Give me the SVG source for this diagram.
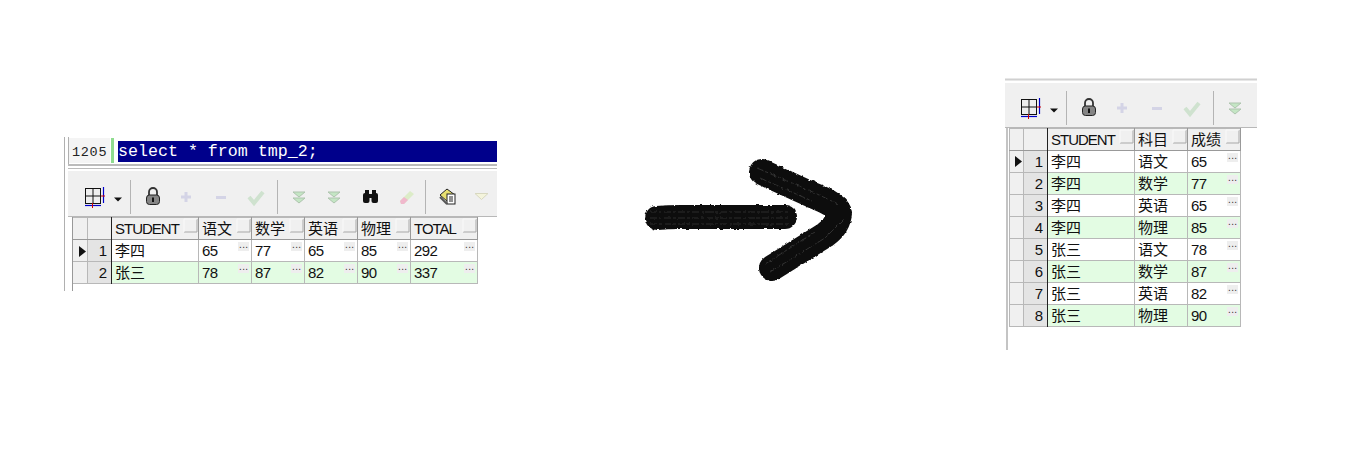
<svg xmlns="http://www.w3.org/2000/svg" width="1349" height="455" viewBox="0 0 1349 455">
<style>
text{font-family:"Liberation Sans","Noto Sans CJK SC",sans-serif;font-size:15px;letter-spacing:-.65px;fill:#111}
.c{font-family:"Noto Sans CJK SC","Liberation Sans",sans-serif;font-size:15px;letter-spacing:0}
.h{letter-spacing:-1px}
.n{text-anchor:end;letter-spacing:0}
.code{font-family:"Liberation Mono",monospace;font-size:16.65px;letter-spacing:0;fill:#fff}
.ln{font-family:"Liberation Mono",monospace;font-size:13.5px;letter-spacing:.7px;fill:#222}
.g{stroke:#b8b8b8;stroke-width:1;fill:none}
.dk{stroke:#222;stroke-width:1;fill:none}
.hd{stroke:#999;stroke-width:1;fill:none}
.sep{stroke:#b4b4b4;stroke-width:1;fill:none}
.dim{stroke:#d4d4e6;stroke-width:3;fill:none}
.chk{stroke:#cfe2cf;stroke-width:4;fill:none}
.chv{fill:#c4e6c4;stroke:#aec4ae;stroke-width:1}
.dots{font-size:10px;letter-spacing:.4px;fill:#333}
.streak{stroke:#333;stroke-width:1;fill:none;stroke-dasharray:7 2 3 2}
</style>
<defs>
<filter id="rough" filterUnits="userSpaceOnUse" x="630" y="145" width="240" height="150">
<feTurbulence type="fractalNoise" baseFrequency="0.25" numOctaves="2" seed="4" result="n"/>
<feDisplacementMap in="SourceGraphic" in2="n" scale="3" xChannelSelector="R" yChannelSelector="G"/>
</filter>
<g id="dot"><rect x="-11" y="2" width="11" height="9" fill="#eeeeee"/><text class="dots" x="-10" y="8">...</text></g>
<g id="grip"><path d="M-14 14H-1V1" stroke="#a8a8a8" fill="none"/><path d="M-14 14V1H-1" stroke="#fafafa" fill="none"/></g>
<g id="chev"><path class="chv" d="M-6 0H6L0 5Z"/><path class="chv" d="M-6 6H6L0 11Z"/></g>
<g id="tbar">
<g id="grid-ic"><rect x="85.500" y="188.500" width="15" height="15" fill="#eeeeee" stroke="#111"/><path d="M93 188v16M85 196h16" stroke="#111"/><path d="M103.500 187v16" stroke="#00c" stroke-width="1.200"/><path d="M85 205.500h16" stroke="#00c" stroke-width="1.200"/><path d="M101 196h4M92.500 203v5" stroke="#c00"/></g>
<path d="M114 197.500h8l-4 4Z" fill="#111"/>
<path class="sep" d="M130.500 180v34"/>
<g id="lock"><path d="M149 195v-3a4 4 0 0 1 8 0V195" stroke="#333" stroke-width="1.800" fill="none"/><rect x="146.500" y="195" width="13" height="9.500" rx="3" fill="#858585" stroke="#222"/><rect x="152" y="197.500" width="2" height="4.500" fill="#111"/></g>
<path class="dim" d="M186 192v10M181 197h10M216 197.500h10"/>
<path class="chk" d="M249 197l5 6 9-11"/>
</g>
</defs>

<rect width="1349" height="455" fill="#fff"/>

<g id="left-panel">
<path d="M64.500 137V291" stroke="#b0b0b0"/>
<path d="M68.500 137V164" stroke="#b0b0b0"/>
<rect x="69" y="138" width="41" height="25" fill="#f4f4f4"/>
<text class="ln" x="72" y="156">1205</text>
<rect x="111" y="138" width="3" height="25" fill="#8fdc8f"/>
<rect x="118" y="141" width="379" height="21" fill="#00008b"/>
<text class="code" x="118" y="156">select * from tmp_2;</text>
<rect x="68" y="164" width="429" height="2" fill="#bbbbbb"/>
<rect x="68" y="168" width="429" height="1" fill="#bbbbbb"/>
<rect x="68" y="171" width="429" height="45" fill="#f0f0f0"/>
<path d="M68 216.500H497" stroke="#b8b8b8"/>
<use href="#tbar"/>
<path class="sep" d="M277.500 180v34M425.500 180v34"/>
<use href="#chev" x="299" y="192"/>
<use href="#chev" x="334" y="192"/>
<g id="binoculars"><rect x="363" y="193" width="6.500" height="10" rx="2" fill="#111"/><rect x="371.500" y="193" width="6.500" height="10" rx="2" fill="#111"/><rect x="365" y="190" width="4" height="4" fill="#111"/><rect x="372" y="190" width="4" height="4" fill="#111"/><rect x="368" y="194" width="5" height="4" fill="#111"/></g>
<g id="eraser"><path d="M401 204l-1-3 10-10 4 3-10 10Z" fill="#dcecc8"/><path d="M401 204l-1-3 4-4 4 3-4 4Z" fill="#f0b8cc"/></g>
<g id="doc-ic"><path d="M440 195l7-6 8 6-7 7Z" fill="#e8e070" stroke="#222"/><rect x="447" y="194" width="8" height="10" fill="#fff" stroke="#222"/><path d="M449 197h4M449 199h4M449 201h4" stroke="#222"/><path d="M440 197l7 7" stroke="#555" stroke-width="2"/></g>
<path d="M475 193.500h13l-6.500 6Z" fill="#f4f4dc" stroke="#d8d8c0"/>
</g>

<g id="left-table">
<rect x="73" y="217" width="405" height="22" fill="#f0f0f0"/>
<rect x="73" y="240" width="15" height="44" fill="#f0f0f0"/>
<rect x="88" y="240" width="24" height="44" fill="#e4e4e4"/>
<rect x="112" y="240" width="366" height="22" fill="#fff"/>
<rect x="112" y="262" width="366" height="22" fill="#e3fce3"/>
<path class="hd" d="M72.500 217V291"/>
<path class="g" d="M73 217.500H478M87.500 217V284M73 261.500H478M73 283.500H478M198.500 240V284M251.500 240V284M304.500 240V284M357.500 240V284M410.500 240V284M477.500 240V284"/>
<path class="hd" d="M73 239.500H478M198.500 217V240M251.500 217V240M304.500 217V240M357.500 217V240M410.500 217V240M477.500 217V240"/>
<path class="dk" d="M111.500 217V284"/>
<use href="#grip" x="198" y="218"/><use href="#grip" x="251" y="218"/><use href="#grip" x="304" y="218"/><use href="#grip" x="357" y="218"/><use href="#grip" x="410" y="218"/><use href="#grip" x="477" y="218"/>
<text class="h" x="115" y="234">STUDENT</text><text class="c" x="202" y="234">语文</text><text class="c" x="255" y="234">数学</text><text class="c" x="308" y="234">英语</text><text class="c" x="361" y="234">物理</text><text class="h" x="414" y="234">TOTAL</text>
<path d="M79 246l7 5.500-7 5.500Z" fill="#111"/>
<text class="n" x="107" y="256">1</text><text class="n" x="107" y="278">2</text>
<text class="c" x="115" y="256">李四</text><text class="c" x="115" y="278">张三</text>
<text x="202" y="256">65</text><text x="255" y="256">77</text><text x="308" y="256">65</text><text x="361" y="256">85</text><text x="414" y="256">292</text>
<text x="202" y="278">78</text><text x="255" y="278">87</text><text x="308" y="278">82</text><text x="361" y="278">90</text><text x="414" y="278">337</text>
<use href="#dot" x="249" y="240"/><use href="#dot" x="302" y="240"/><use href="#dot" x="355" y="240"/><use href="#dot" x="408" y="240"/><use href="#dot" x="475" y="240"/>
<use href="#dot" x="249" y="262"/><use href="#dot" x="302" y="262"/><use href="#dot" x="355" y="262"/><use href="#dot" x="408" y="262"/><use href="#dot" x="475" y="262"/>
</g>

<g id="big-arrow" filter="url(#rough)">
<path d="M657 218Q668 217 680 217L785 217" stroke="#0b0b0b" stroke-width="24" fill="none" stroke-linecap="round"/>
<path d="M762 172L812 195Q838 205 839 213Q838 226 825 235L772 268" stroke="#0e0e0e" stroke-width="26" fill="none" stroke-linecap="round" stroke-linejoin="round"/>
<path class="streak" d="M650 212H790M650 218H790M650 224H790M757 168L815 193L838 204M760 178L812 201M770 272L825 238L845 218M765 264L815 232"/>
</g>

<g id="right-panel">
<path d="M1005 79.500H1257" stroke="#d0d0d0" stroke-width="2"/>
<rect x="1005" y="83" width="252" height="44" fill="#f0f0f0"/>
<path d="M1005 127.500H1257" stroke="#b8b8b8"/>
<path d="M1007 128V350" stroke="#c4c4c4" stroke-width="2"/>
<use href="#tbar" x="936" y="-89"/>
<path class="sep" d="M1213.500 91v34"/>
<use href="#chev" x="1235" y="103"/>
</g>

<g id="right-table">
<rect x="1009" y="128" width="232" height="22" fill="#f0f0f0"/>
<rect x="1009" y="151" width="15" height="176" fill="#f0f0f0"/>
<rect x="1024" y="151" width="23" height="176" fill="#e4e4e4"/>
<rect x="1047" y="151" width="194" height="176" fill="#fff"/>
<rect x="1047" y="173" width="194" height="22" fill="#e3fce3"/>
<rect x="1047" y="217" width="194" height="22" fill="#e3fce3"/>
<rect x="1047" y="261" width="194" height="22" fill="#e3fce3"/>
<rect x="1047" y="305" width="194" height="22" fill="#e3fce3"/>
<path class="g" d="M1009 128.500H1241M1023.500 128V327M1009.500 128V327M1009 172.500H1241M1009 194.500H1241M1009 216.500H1241M1009 238.500H1241M1009 260.500H1241M1009 282.500H1241M1009 304.500H1241M1009 326.500H1241M1134.500 151V327M1187.500 151V327M1240.500 151V327"/>
<path class="hd" d="M1009 150.500H1241M1134.500 128V151M1187.500 128V151M1240.500 128V151"/>
<path class="dk" d="M1047.500 128V327"/>
<use href="#grip" x="1134" y="129"/><use href="#grip" x="1187" y="129"/><use href="#grip" x="1240" y="129"/>
<text class="h" x="1051" y="145">STUDENT</text><text class="c" x="1138" y="145">科目</text><text class="c" x="1191" y="145">成绩</text>
<path d="M1015 156l7 5.500-7 5.500Z" fill="#111"/>
<text class="n" x="1043" y="167">1</text><text class="n" x="1043" y="189">2</text><text class="n" x="1043" y="211">3</text><text class="n" x="1043" y="233">4</text><text class="n" x="1043" y="255">5</text><text class="n" x="1043" y="277">6</text><text class="n" x="1043" y="299">7</text><text class="n" x="1043" y="321">8</text>
<text class="c" x="1051" y="167">李四</text><text class="c" x="1138" y="167">语文</text><text x="1191" y="167">65</text>
<text class="c" x="1051" y="189">李四</text><text class="c" x="1138" y="189">数学</text><text x="1191" y="189">77</text>
<text class="c" x="1051" y="211">李四</text><text class="c" x="1138" y="211">英语</text><text x="1191" y="211">65</text>
<text class="c" x="1051" y="233">李四</text><text class="c" x="1138" y="233">物理</text><text x="1191" y="233">85</text>
<text class="c" x="1051" y="255">张三</text><text class="c" x="1138" y="255">语文</text><text x="1191" y="255">78</text>
<text class="c" x="1051" y="277">张三</text><text class="c" x="1138" y="277">数学</text><text x="1191" y="277">87</text>
<text class="c" x="1051" y="299">张三</text><text class="c" x="1138" y="299">英语</text><text x="1191" y="299">82</text>
<text class="c" x="1051" y="321">张三</text><text class="c" x="1138" y="321">物理</text><text x="1191" y="321">90</text>
<use href="#dot" x="1238" y="151"/><use href="#dot" x="1238" y="173"/><use href="#dot" x="1238" y="195"/><use href="#dot" x="1238" y="217"/><use href="#dot" x="1238" y="239"/><use href="#dot" x="1238" y="261"/><use href="#dot" x="1238" y="283"/><use href="#dot" x="1238" y="305"/>
</g>
</svg>
